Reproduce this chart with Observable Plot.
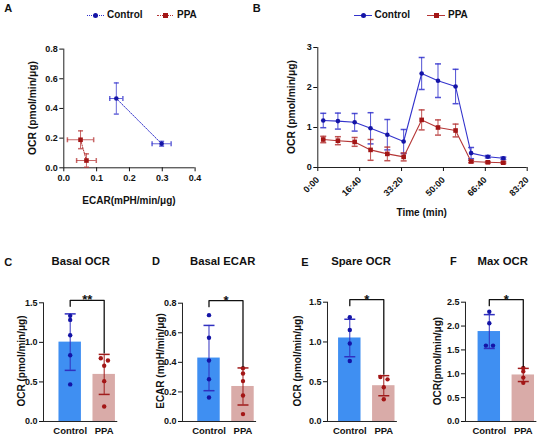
<!DOCTYPE html>
<html><head><meta charset="utf-8">
<script src="https://cdn.jsdelivr.net/npm/d3@7"></script>
<script src="https://cdn.jsdelivr.net/npm/@observablehq/plot@0.6"></script>
<style>
body{margin:0;background:#fff;}
#fig{position:relative;width:550px;height:440px;overflow:hidden;font-family:"Liberation Sans",Arial,sans-serif;font-weight:bold;color:#111;}
#fig svg{overflow:visible}
</style></head><body><div id="fig"></div>
<script>
// ---------- Panel A data ----------
const aGroups = ["Control", "Control", "PPA", "PPA"];
const aEcar = [0.160, 0.298, 0.051, 0.069];
const aEcarErr = [0.020, 0.029, 0.040, 0.030];
const aOcr = [0.467, 0.162, 0.189, 0.049];
const aOcrErr = [0.105, 0.016, 0.060, 0.045];
const aXTicks = [0, 0.1, 0.2, 0.3, 0.4];
const aYTicks = [0, 0.2, 0.4, 0.6, 0.8];
// ---------- Panel B data ----------
const bTimes = [130, 480, 880, 1260, 1660, 2050, 2480, 2870, 3290, 3660, 4060, 4430]; // seconds
const bControl = [1.175, 1.16, 1.13, 0.98, 0.82, 0.65, 2.35, 2.17, 2.025, 0.36, 0.27, 0.23];
const bControlErr = [0.18, 0.20, 0.22, 0.39, 0.38, 0.30, 0.40, 0.42, 0.43, 0.14, 0.03, 0.03];
const bPPA = [0.70, 0.67, 0.64, 0.44, 0.34, 0.265, 1.19, 1.00, 0.925, 0.15, 0.13, 0.12];
const bPPAErr = [0.08, 0.10, 0.11, 0.26, 0.17, 0.10, 0.25, 0.19, 0.16, 0.03, 0.02, 0.02];
const bXTicks = [0, 1000, 2000, 3000, 4000, 5000];
const bYTicks = [0, 1, 2, 3];
// ---------- Panels C-F data ----------
const groups = ["Control", "PPA"];
const cControl = [1.335, 1.284, 1.09, 0.837, 0.469];
const cPPA = [0.80, 0.77, 0.705, 0.51, 0.19];
const dControl = [0.719, 0.566, 0.412, 0.286, 0.162];
const dPPA = [0.36, 0.325, 0.273, 0.176, 0.05];
const eControl = [1.31, 1.15, 0.98, 0.76];
const ePPA = [0.56, 0.53, 0.43, 0.28];
const fControl = [2.30, 2.06, 1.59, 1.59];
const fPPA = [1.12, 1.05, 0.92, 0.81];
const cTicks = [0, 0.5, 1.0, 1.5];
const dTicks = [0, 0.2, 0.4, 0.6, 0.8];
const eTicks = [0, 0.5, 1.0, 1.5];
const fTicks = [0, 0.5, 1.0, 1.5, 2.0, 2.5];
const stars = ["**", "*", "*", "*"];

// ---------- styling ----------
const C_LINE = "#3333cc", C_DOT = "#1414a6", C_BAR = "#3f8ff2", C_ERR = "#3030c0";
const P_LINE = "#b53636", P_DOT = "#a31616", P_BAR = "#d9aba8", P_ERR = "#a01c1c";
const AXIS = "#222";
const baseStyle = {fontFamily: '"Liberation Sans", Arial, sans-serif', fontWeight: "bold", fontSize: "9px", color: "#111", background: "transparent", overflow: "visible"};
const capH = {draw(ctx, size) { const r = Math.sqrt(size / Math.PI); ctx.moveTo(-r, 0); ctx.lineTo(r, 0); }};
const capV = {draw(ctx, size) { const r = Math.sqrt(size / Math.PI); ctx.moveTo(0, -r); ctx.lineTo(0, r); }};
const f1 = d3.format(".1f");

const fig = document.getElementById("fig");
function put(node, left, top) { node.style.position = "absolute"; node.style.left = left + "px"; node.style.top = top + "px"; fig.appendChild(node); }
function txt(s, cx, cy, size, rot) {
  const d = document.createElement("div");
  d.textContent = s;
  d.style.cssText = `position:absolute;left:${cx}px;top:${cy}px;font-size:${size}px;line-height:1;white-space:nowrap;transform:translate(-50%,-50%)${rot ? " rotate(-90deg)" : ""};`;
  fig.appendChild(d);
}
function legendItem(x0, x1, y, color, square, dotted, label, labelX) {
  const ln = document.createElement("div");
  ln.style.cssText = `position:absolute;left:${x0}px;top:${y}px;width:${x1 - x0}px;height:0;border-top:1px ${dotted ? "dotted" : "solid"} ${color};`;
  fig.appendChild(ln);
  const m = document.createElement("div");
  const s = 5;
  m.style.cssText = `position:absolute;left:${(x0 + x1) / 2 - s / 2}px;top:${y + 0.5 - s / 2}px;width:${s}px;height:${s}px;background:${square ? P_DOT : C_DOT};border-radius:${square ? 0 : 50}%;`;
  fig.appendChild(m);
  const t = document.createElement("div");
  t.textContent = label;
  t.style.cssText = `position:absolute;left:${labelX}px;top:${y}px;font-size:10px;line-height:1;transform:translateY(-50%);white-space:nowrap;`;
  fig.appendChild(t);
}

// ---------- Panel A ----------
{
  const data = aGroups.map((g, i) => ({g, x: aEcar[i], xe: aEcarErr[i], y: aOcr[i], ye: aOcrErr[i]}));
  const marks = [
    Plot.ruleX([0], {y1: 0, y2: 0.8, stroke: AXIS}),
    Plot.ruleY([0], {x1: 0, x2: 0.4, stroke: AXIS}),
    Plot.axisX({ticks: aXTicks, tickFormat: f1, tickSize: 4, tickPadding: 3, label: null, fontSize: 9}),
    Plot.axisY({ticks: aYTicks, tickFormat: f1, tickSize: 4, tickPadding: 2, label: null, fontSize: 9})
  ];
  for (const [g, lc, dc, sym] of [["Control", C_LINE, C_DOT, "circle"], ["PPA", P_LINE, P_DOT, "square"]]) {
    const d = data.filter(r => r.g === g);
    marks.push(
      Plot.line(d, {x: "x", y: "y", stroke: lc, strokeWidth: 1, strokeDasharray: "1.3,1.3"}),
      Plot.ruleY(d, {y: "y", x1: r => r.x - r.xe, x2: r => r.x + r.xe, stroke: lc, strokeOpacity: 0.75}),
      Plot.ruleX(d, {x: "x", y1: r => r.y - r.ye, y2: r => r.y + r.ye, stroke: lc, strokeOpacity: 0.75}),
      Plot.dot(d, {x: r => r.x - r.xe, y: "y", symbol: capV, r: 2.5, stroke: lc, fill: "none", strokeOpacity: 0.75}),
      Plot.dot(d, {x: r => r.x + r.xe, y: "y", symbol: capV, r: 2.5, stroke: lc, fill: "none", strokeOpacity: 0.75}),
      Plot.dot(d, {x: "x", y: r => r.y - r.ye, symbol: capH, r: 2.5, stroke: lc, fill: "none", strokeOpacity: 0.75}),
      Plot.dot(d, {x: "x", y: r => r.y + r.ye, symbol: capH, r: 2.5, stroke: lc, fill: "none", strokeOpacity: 0.75}),
      Plot.dot(d, {x: "x", y: "y", symbol: sym, r: sym === "square" ? 2.6 : 2.3, fill: dc, stroke: "none"})
    );
  }
  const p = Plot.plot({width: 205, height: 160, marginLeft: 63.3, marginRight: 10.4, marginTop: 18.6, marginBottom: 22.7,
    x: {domain: [0, 0.4]}, y: {domain: [0, 0.8]}, style: baseStyle, marks});
  put(p, 0, 30);
}

// ---------- Panel B ----------
{
  const mmss = t => `${Math.floor(t / 60)}:${String(t % 60).padStart(2, "0")}`;
  const marks = [
    Plot.ruleX([0], {y1: 0, y2: 3, stroke: AXIS}),
    Plot.ruleY([0], {x1: 0, x2: 5000, stroke: AXIS}),
    Plot.axisX({ticks: bXTicks, tickFormat: mmss, tickSize: 4, tickPadding: 7, tickRotate: -45, label: null, fontSize: 9}),
    Plot.axisY({ticks: bYTicks, tickFormat: d3.format("d"), tickSize: 4, tickPadding: 2, label: null, fontSize: 9})
  ];
  for (const [vals, errs, lc, dc, sym] of [[bControl, bControlErr, C_LINE, C_DOT, "circle"], [bPPA, bPPAErr, P_LINE, P_DOT, "square"]]) {
    const d = bTimes.map((t, i) => ({t, v: vals[i], e: errs[i]}));
    marks.push(
      Plot.line(d, {x: "t", y: "v", stroke: lc, strokeWidth: 1.1}),
      Plot.ruleX(d, {x: "t", y1: r => r.v - r.e, y2: r => r.v + r.e, stroke: lc, strokeOpacity: 0.85}),
      Plot.dot(d, {x: "t", y: r => r.v - r.e, symbol: capH, r: 3, stroke: lc, fill: "none", strokeOpacity: 0.85}),
      Plot.dot(d, {x: "t", y: r => r.v + r.e, symbol: capH, r: 3, stroke: lc, fill: "none", strokeOpacity: 0.85}),
      Plot.dot(d, {x: "t", y: "v", symbol: sym, r: sym === "square" ? 2.6 : 2.3, fill: dc, stroke: "none"})
    );
  }
  const p = Plot.plot({width: 277, height: 172, marginLeft: 57.3, marginRight: 10.3, marginTop: 17, marginBottom: 35,
    x: {domain: [0, 5000]}, y: {domain: [0, 3]}, style: baseStyle, marks});
  put(p, 260, 30);
}

// ---------- Panels C-F ----------
const PX_PER_GROUP = 34;
function barPanel(cfg, ctrl, ppa, ticks, star) {
  const yMax = ticks[ticks.length - 1];
  const frameTop = cfg.frameTop, frameBottom = 421;
  const pxu = (frameBottom - frameTop) / yMax;
  const L = (cfg.ctrlX - cfg.axisX) / PX_PER_GROUP, R = 0.4;
  const frameW = (1 + L + R) * PX_PER_GROUP;
  const mL = 40, svgLeft = cfg.axisX - mL;
  const sets = [ctrl, ppa];
  const stats = sets.map((v, i) => ({i, mean: d3.mean(v), sd: d3.deviation(v)}));
  const pts = [];
  sets.forEach((v, i) => {
    const sorted = v.slice().sort((a, b) => b - a);
    const thr = 0.025 * yMax;
    sorted.forEach((val, j) => {
      let dx = 0;
      if (j > 0 && Math.abs(sorted[j - 1] - val) < thr) { dx = 0.11; pts[pts.length - 1].x = i - 0.1; }
      pts.push({i, x: i + dx, y: val});
    });
  });
  const top1 = Math.max(stats[1].mean + stats[1].sd, d3.max(ppa));
  const yb = yMax + 2.5 / pxu;
  const bracket = [[0, yb - 6 / pxu], [0, yb], [1, yb], [1, top1 + 1.5 / pxu]];
  const marks = [
    Plot.rect(stats, {x1: d => d.i - 0.33, x2: d => d.i + 0.33, y1: 0, y2: "mean", fill: d => d.i ? P_BAR : C_BAR}),
    Plot.ruleX(stats, {x: "i", y1: d => d.mean - d.sd, y2: d => d.mean + d.sd, stroke: d => d.i ? P_ERR : C_ERR, strokeWidth: 1}),
    Plot.dot(stats, {x: "i", y: d => d.mean + d.sd, symbol: capH, r: 5.5, stroke: d => d.i ? P_ERR : C_ERR, fill: "none"}),
    Plot.dot(stats, {x: "i", y: d => d.mean - d.sd, symbol: capH, r: 5.5, stroke: d => d.i ? P_ERR : C_ERR, fill: "none"}),
    Plot.dot(pts, {x: "x", y: "y", r: 2.2, fill: d => d.i ? P_DOT : C_DOT, stroke: "none"}),
    Plot.ruleX([-L], {y1: 0, y2: yMax, stroke: AXIS}),
    Plot.ruleY([0], {x1: -L, x2: 1 + R, stroke: AXIS}),
    Plot.axisY({ticks, tickFormat: f1, tickSize: 4, tickPadding: 2, label: null, fontSize: 9}),
    Plot.axisX({ticks: [0, 1], tickFormat: i => groups[i], tickSize: 0, tickPadding: 6, label: null, fontSize: 9.5}),
    Plot.line(bracket, {x: d => d[0], y: d => d[1], stroke: "#111", strokeWidth: 1.3}),
    Plot.text([star], {x: 0.5, y: yb, text: d => d, fontSize: 13, lineAnchor: "bottom", dy: 4})
  ];
  const p = Plot.plot({width: mL + frameW + 6, height: 160, marginLeft: mL, marginRight: 6, marginTop: frameTop - 280, marginBottom: 440 - frameBottom,
    x: {domain: [-L, 1 + R]}, y: {domain: [0, yMax]}, style: baseStyle, marks});
  put(p, svgLeft, 280);
}
barPanel({axisX: 43.3, ctrlX: 70, frameTop: 302.3}, cControl, cPPA, cTicks, stars[0]);
barPanel({axisX: 182.3, ctrlX: 208.8, frameTop: 302.7}, dControl, dPPA, dTicks, stars[1]);
barPanel({axisX: 326.7, ctrlX: 349, frameTop: 301.7}, eControl, ePPA, eTicks, stars[2]);
barPanel({axisX: 465, ctrlX: 488.8, frameTop: 301.7}, fControl, fPPA, fTicks, stars[3]);

// ---------- Text: letters, titles, axis titles ----------
txt("A", 8.3, 7.5, 11); txt("B", 256.7, 7.5, 11);
txt("C", 8.3, 261.7, 11); txt("D", 156, 261.2, 11); txt("E", 305, 261.7, 11); txt("F", 453.3, 261.2, 11);
txt("Basal OCR", 80.7, 261.7, 11.3); txt("Basal ECAR", 222.7, 261.7, 11.3);
txt("Spare OCR", 361, 261.7, 11.3); txt("Max OCR", 502.7, 261.7, 11.3);
txt("OCR (pmol/min/μg)", 33.3, 108, 10.3, true);
txt("ECAR(mPH/min/μg)", 129, 201, 10);
txt("OCR (pmol/min/μg)", 291.7, 107, 10.3, true);
txt("Time (min)", 421.7, 213, 10);
txt("OCR (pmol/min/μg)", 21.7, 361, 10, true);
txt("ECAR (mpH/min/μg)", 160.7, 361, 10, true);
txt("OCR (pmol/min/μg)", 298.3, 361, 10, true);
txt("OCR(pmol/min/μg)", 438.3, 361, 10, true);

// ---------- Legends ----------
legendItem(87, 104, 15, C_LINE, false, true, groups[0], 107);
legendItem(157, 173, 15, P_LINE, true, true, groups[1], 177);
legendItem(354, 372, 15, C_LINE, false, false, groups[0], 374.5);
legendItem(427, 445, 15, P_LINE, true, false, groups[1], 448);
</script></body></html>
